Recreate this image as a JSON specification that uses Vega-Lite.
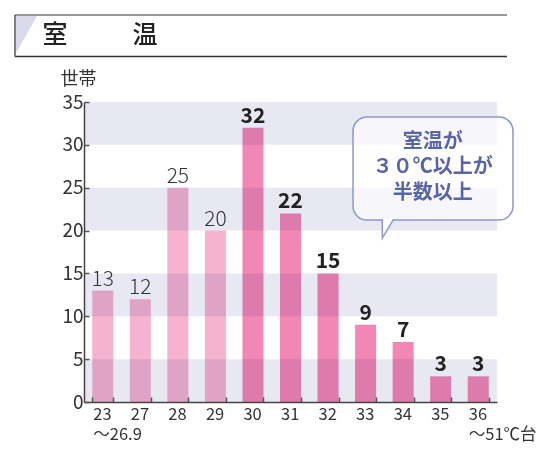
{
  "$schema": "https://vega.github.io/schema/vega-lite/v6.json",
  "width": 413,
  "height": 300,
  "autosize": {"type": "none"},
  "padding": {"left": 84, "top": 102, "right": 40, "bottom": 49},
  "background": "white",
  "config": {"view": {"stroke": null}, "font": "Noto Sans CJK JP"},
  "datasets": {
    "households": [
      {"cat": "23|～26.9", "n": 13, "grp": "a"},
      {"cat": "27", "n": 12, "grp": "a"},
      {"cat": "28", "n": 25, "grp": "a"},
      {"cat": "29", "n": 20, "grp": "a"},
      {"cat": "30", "n": 32, "grp": "b"},
      {"cat": "31", "n": 22, "grp": "b"},
      {"cat": "32", "n": 15, "grp": "b"},
      {"cat": "33", "n": 9, "grp": "b"},
      {"cat": "34", "n": 7, "grp": "b"},
      {"cat": "35", "n": 3, "grp": "b"},
      {"cat": "36|～51℃台", "n": 3, "grp": "b"}
    ],
    "bands": [
      {"lo": 0, "hi": 5},
      {"lo": 10, "hi": 15},
      {"lo": 20, "hi": 25},
      {"lo": 30, "hi": 35}
    ]
  },
  "resolve": {"scale": {"x": "independent"}, "axis": {"x": "independent"}},
  "layer": [
    {
      "data": {"name": "households"},
      "encoding": {
        "x": {
          "field": "cat", "type": "nominal", "sort": null,
          "scale": {"paddingInner": 0.44, "paddingOuter": 0.22},
          "axis": {
            "title": null,
            "zindex": 1,
            "labelExpr": "split(datum.label, '|')",
            "labelAngle": 0,
            "labelAlign": "left",
            "labelOffset": -10,
            "labelFontSize": 16.5,
            "labelColor": "#333",
            "labelLineHeight": 20,
            "labelBaseline": "top",
            "labelPadding": 9,
            "tickBand": "extent",
            "tickSize": -5,
            "tickColor": "#555",
            "tickWidth": 1.5,
            "domainColor": "#444",
            "domainWidth": 1.5
          }
        },
        "y": {
          "field": "n", "type": "quantitative",
          "scale": {"domain": [0, 35], "nice": false},
          "axis": {
            "title": "世帯",
            "zindex": 1,
            "titleAngle": 0,
            "titleAlign": "center",
            "titleBaseline": "alphabetic",
            "titleX": -6,
            "titleY": -18,
            "titleFontSize": 18,
            "titleFontWeight": "normal",
            "titleColor": "#333",
            "values": [0, 5, 10, 15, 20, 25, 30, 35],
            "labelFontSize": 19,
            "labelColor": "#333",
            "labelPadding": 6,
            "tickSize": -5,
            "tickColor": "#555",
            "tickWidth": 1.5,
            "grid": false,
            "domainColor": "#444",
            "domainWidth": 1.5
          }
        }
      },
      "layer": [
        {
          "data": {"name": "bands"},
          "mark": {"type": "rect", "color": "#e8e8f2"},
          "encoding": {
            "x": null,
            "y": {"field": "lo", "type": "quantitative", "scale": {"domain": [0, 35], "nice": false}, "axis": {"title": "世帯"}},
            "y2": {"field": "hi"}
          }
        },
        {
          "mark": {"type": "bar", "blend": "multiply"},
          "encoding": {
            "color": {"field": "grp", "type": "nominal", "scale": {"domain": ["a", "b"], "range": ["#f5b3d0", "#f287b5"]}, "legend": null}
          }
        },
        {
          "transform": [{"filter": "datum.grp == 'a'"}],
          "mark": {"type": "text", "baseline": "alphabetic", "dy": -5, "fontSize": 21, "fontWeight": 300, "color": "#333"},
          "encoding": {"text": {"field": "n"}}
        },
        {
          "transform": [{"filter": "datum.grp == 'b'"}],
          "mark": {"type": "text", "baseline": "alphabetic", "dy": -5, "fontSize": 21, "fontWeight": "bold", "color": "#222"},
          "encoding": {"text": {"field": "n"}}
        }
      ]
    },
    {
      "data": {"values": [{}]},
      "layer": [
        {
          "mark": {"type": "point", "shape": "M-0.567,-1L0.567,-1L-0.567,1Z", "size": 1369, "filled": true, "color": "#d9d9ec", "opacity": 1},
          "encoding": {
            "x": {"datum": -2.031, "type": "quantitative", "scale": {"domain": [-0.5, 10.5], "nice": false, "zero": false}, "axis": null},
            "y": {"datum": 42.87, "type": "quantitative", "scale": {"domain": [0, 35], "nice": false}, "axis": {"title": "世帯"}}
          }
        },
        {
          "mark": {"type": "rule", "color": "#999", "strokeWidth": 2},
          "encoding": {
            "x": {"datum": -2.338, "type": "quantitative", "scale": {"domain": [-0.5, 10.5], "nice": false, "zero": false}, "axis": null},
            "x2": {"datum": 10.766},
            "y": {"datum": 45.15, "type": "quantitative", "scale": {"domain": [0, 35], "nice": false}, "axis": {"title": "世帯"}}
          }
        },
        {
          "mark": {"type": "rule", "color": "#333", "strokeWidth": 1.5},
          "encoding": {
            "x": {"datum": -2.338, "type": "quantitative", "scale": {"domain": [-0.5, 10.5], "nice": false, "zero": false}, "axis": null},
            "x2": {"datum": 10.766},
            "y": {"datum": 40.3, "type": "quantitative", "scale": {"domain": [0, 35], "nice": false}, "axis": {"title": "世帯"}}
          }
        },
        {
          "mark": {"type": "rule", "color": "#555", "strokeWidth": 1.5},
          "encoding": {
            "x": {"datum": -2.338, "type": "quantitative", "scale": {"domain": [-0.5, 10.5], "nice": false, "zero": false}, "axis": null},
            "y": {"datum": 45.15, "type": "quantitative", "scale": {"domain": [0, 35], "nice": false}, "axis": {"title": "世帯"}},
            "y2": {"datum": 40.3}
          }
        },
        {
          "mark": {"type": "text", "text": "室", "fontSize": 25, "fontWeight": 500, "color": "#222", "align": "center", "baseline": "middle"},
          "encoding": {
            "x": {"datum": -1.272, "type": "quantitative", "scale": {"domain": [-0.5, 10.5], "nice": false, "zero": false}, "axis": null},
            "y": {"datum": 42.8, "type": "quantitative", "scale": {"domain": [0, 35], "nice": false}, "axis": {"title": "世帯"}}
          }
        },
        {
          "mark": {"type": "text", "text": "温", "fontSize": 25, "fontWeight": 500, "color": "#222", "align": "center", "baseline": "middle"},
          "encoding": {
            "x": {"datum": 1.125, "type": "quantitative", "scale": {"domain": [-0.5, 10.5], "nice": false, "zero": false}, "axis": null},
            "y": {"datum": 42.8, "type": "quantitative", "scale": {"domain": [0, 35], "nice": false}, "axis": {"title": "世帯"}}
          }
        },
        {
          "mark": {"type": "rect", "cornerRadius": 14, "fill": "white", "fillOpacity": 0.65, "stroke": "#8d97cc", "strokeWidth": 1.5},
          "encoding": {
            "x": {"datum": 6.665, "type": "quantitative", "scale": {"domain": [-0.5, 10.5], "nice": false, "zero": false}, "axis": null},
            "x2": {"datum": 10.926},
            "y": {"datum": 33.25, "type": "quantitative", "scale": {"domain": [0, 35], "nice": false}, "axis": {"title": "世帯"}},
            "y2": {"datum": 21.23}
          }
        },
        {
          "mark": {"type": "point", "shape": "M-0.6,-1L-0.6,1L0.6,-1", "size": 361, "filled": true, "fill": "white", "fillOpacity": 1, "stroke": "#8d97cc", "strokeWidth": 1.5, "opacity": 1},
          "encoding": {
            "x": {"datum": 7.597, "type": "quantitative", "scale": {"domain": [-0.5, 10.5], "nice": false, "zero": false}, "axis": null},
            "y": {"datum": 20.24, "type": "quantitative", "scale": {"domain": [0, 35], "nice": false}, "axis": {"title": "世帯"}}
          }
        },
        {
          "mark": {"type": "text", "text": "室温が", "fontSize": 20, "fontWeight": "bold", "color": "#5a64a8", "align": "center", "baseline": "middle"},
          "encoding": {
            "x": {"datum": 8.79, "type": "quantitative", "scale": {"domain": [-0.5, 10.5], "nice": false, "zero": false}, "axis": null},
            "y": {"datum": 30.28, "type": "quantitative", "scale": {"domain": [0, 35], "nice": false}, "axis": {"title": "世帯"}}
          }
        },
        {
          "mark": {"type": "text", "text": "３０℃以上が", "fontSize": 20, "fontWeight": "bold", "color": "#5a64a8", "align": "center", "baseline": "middle"},
          "encoding": {
            "x": {"datum": 8.79, "type": "quantitative", "scale": {"domain": [-0.5, 10.5], "nice": false, "zero": false}, "axis": null},
            "y": {"datum": 27.36, "type": "quantitative", "scale": {"domain": [0, 35], "nice": false}, "axis": {"title": "世帯"}}
          }
        },
        {
          "mark": {"type": "text", "text": "半数以上", "fontSize": 20, "fontWeight": "bold", "color": "#5a64a8", "align": "center", "baseline": "middle"},
          "encoding": {
            "x": {"datum": 8.79, "type": "quantitative", "scale": {"domain": [-0.5, 10.5], "nice": false, "zero": false}, "axis": null},
            "y": {"datum": 24.44, "type": "quantitative", "scale": {"domain": [0, 35], "nice": false}, "axis": {"title": "世帯"}}
          }
        }
      ]
    }
  ]
}
